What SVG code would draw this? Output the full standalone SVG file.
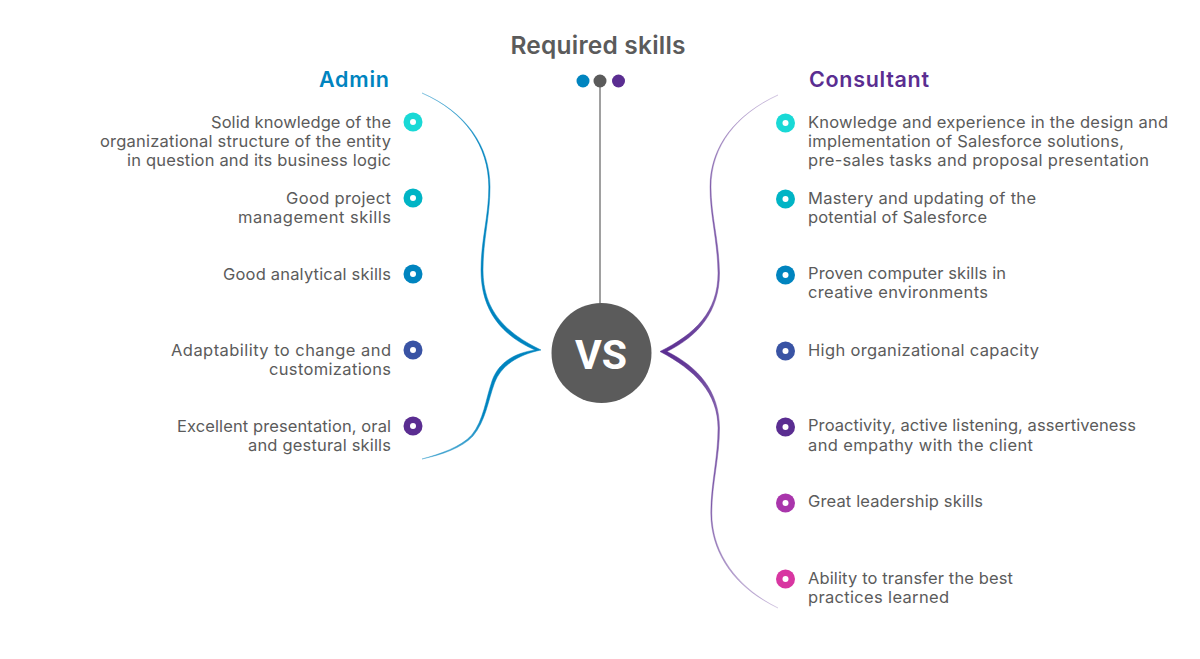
<svg xmlns="http://www.w3.org/2000/svg" width="1200" height="659" viewBox="0 0 1200 659">
<style>
text{font-family:"Inter","Noto Sans","Liberation Sans",sans-serif}
.t{font-size:16.5px;fill:#5b5b5b}
.l{text-anchor:end}
.h{font-size:21.5px;font-weight:600}
.hole{fill:#fff}
</style>
<defs>
<linearGradient id="ga" gradientUnits="userSpaceOnUse" x1="0" y1="93" x2="0" y2="459">
<stop offset="0" stop-color="#0084bf" stop-opacity=".55"/><stop offset=".15" stop-color="#0084bf"/><stop offset=".88" stop-color="#0084bf"/><stop offset="1" stop-color="#0084bf" stop-opacity=".6"/>
</linearGradient>
<linearGradient id="gc" gradientUnits="userSpaceOnUse" x1="0" y1="95" x2="0" y2="610">
<stop offset="0" stop-color="#5a2d91" stop-opacity=".3"/><stop offset=".2" stop-color="#5a2d91" stop-opacity=".7"/><stop offset=".4" stop-color="#5a2d91" stop-opacity=".75"/><stop offset=".5" stop-color="#5a2d91"/><stop offset=".6" stop-color="#5a2d91" stop-opacity=".75"/><stop offset=".8" stop-color="#5a2d91" stop-opacity=".7"/><stop offset="1" stop-color="#5a2d91" stop-opacity=".25"/>
</linearGradient>
</defs>
<g id="connectors">
<line x1="600" y1="81" x2="600" y2="304" stroke="#a0a0a0" stroke-width="2"/>
<path id="admin-brace" fill="url(#ga)" stroke="url(#ga)" stroke-width=".5" d="M422,93 C466,112 490,146 490,187 C490,216 483,240 483,270 C483,311 506,333 541,350 C517,355 501,366 494.500,383 C488,401 485.500,421 473,436 C462,448 441,455 422,459 C440,454 461,447 471.700,435 C483.700,420 485.500,400 492,381 C498.500,362 515,353 535,350 C503,336 481,312 481,270 C481,240 488.800,216 488.800,187 C488.800,146 465,112 422,93 Z"/>
<path id="consultant-brace" fill="url(#gc)" stroke="url(#gc)" stroke-width=".5" d="M778,95 C737,114 711,146 711,187 C711,216 719,240 719.500,273 C719.500,312 698,336 667,351.500 C698,367 719.500,391 719.500,428 C719.500,458 711.800,484 711.800,513 C711.800,554 738,588 778,608 C737,589 710.800,555 710.800,513 C710.800,484 718,458 718,428 C718,393 695,370 660,351.500 C695,334 718,312 718,273 C717.500,240 710,216 710,187 C710,146 736,114 778,95 Z"/>
</g>
<g id="title"><text x="598" y="54" text-anchor="middle" font-size="24.500" font-weight="600" fill="#5b5b5b" textLength="175">Required skills</text></g>
<g id="top-dots"><circle cx="583" cy="81" r="6.500" fill="#0084bf"/><circle cx="600" cy="81" r="6.500" fill="#5b5b5b"/><circle cx="618.500" cy="81" r="6.500" fill="#5a2d91"/></g>
<g id="vs"><circle cx="601.500" cy="353" r="50" fill="#5b5b5b"/><text x="601" y="369" text-anchor="middle" font-size="41" font-weight="700" fill="#fff" style="font-family:Roboto,sans-serif">VS</text></g>
<g id="admin-head"><text class="h l" x="389" y="87" fill="#0084bf" textLength="70">Admin</text></g>
<g id="consultant-head"><text class="h" x="809" y="87" fill="#5a2d91" textLength="120">Consultant</text></g>

<g id="a1"><circle cx="413" cy="122" r="9.500" fill="#19d9d6"/><circle cx="413" cy="122" r="3" class="hole"/><text class="t l" x="391" y="128" textLength="180">Solid knowledge of the</text><text class="t l" x="391" y="147" textLength="291">organizational structure of the entity</text><text class="t l" x="391" y="166" textLength="264">in question and its business logic</text></g>
<g id="a2"><circle cx="413" cy="198" r="9.500" fill="#00b4c5"/><circle cx="413" cy="198" r="3" class="hole"/><text class="t l" x="391" y="204" textLength="105">Good project</text><text class="t l" x="391" y="223" textLength="153">management skills</text></g>
<g id="a3"><circle cx="413" cy="274" r="9.500" fill="#0084bf"/><circle cx="413" cy="274" r="3" class="hole"/><text class="t l" x="391" y="280" textLength="168">Good analytical skills</text></g>
<g id="a4"><circle cx="413" cy="350" r="9.500" fill="#3953a4"/><circle cx="413" cy="350" r="3" class="hole"/><text class="t l" x="391" y="356" textLength="220">Adaptability to change and</text><text class="t l" x="391" y="375" textLength="122">customizations</text></g>
<g id="a5"><circle cx="413" cy="426" r="9.500" fill="#5a2d91"/><circle cx="413" cy="426" r="3" class="hole"/><text class="t l" x="391" y="432" textLength="214">Excellent presentation, oral</text><text class="t l" x="391" y="451" textLength="143">and gestural skills</text></g>

<g id="c1"><circle cx="785.500" cy="123" r="9.500" fill="#19d9d6"/><circle cx="785.500" cy="123" r="3" class="hole"/><text class="t" x="808" y="128" textLength="360">Knowledge and experience in the design and</text><text class="t" x="808" y="147" textLength="316">implementation of Salesforce solutions,</text><text class="t" x="808" y="166" textLength="341">pre-sales tasks and proposal presentation</text></g>
<g id="c2"><circle cx="785.500" cy="199" r="9.500" fill="#00b4c5"/><circle cx="785.500" cy="199" r="3" class="hole"/><text class="t" x="808" y="204" textLength="228">Mastery and updating of the</text><text class="t" x="808" y="223" textLength="179">potential of Salesforce</text></g>
<g id="c3"><circle cx="785.500" cy="275" r="9.500" fill="#0084bf"/><circle cx="785.500" cy="275" r="3" class="hole"/><text class="t" x="808" y="279" textLength="198">Proven computer skills in</text><text class="t" x="808" y="298" textLength="180">creative environments</text></g>
<g id="c4"><circle cx="785.500" cy="351" r="9.500" fill="#3953a4"/><circle cx="785.500" cy="351" r="3" class="hole"/><text class="t" x="808" y="356" textLength="231">High organizational capacity</text></g>
<g id="c5"><circle cx="785.500" cy="427" r="9.500" fill="#5a2d91"/><circle cx="785.500" cy="427" r="3" class="hole"/><text class="t" x="808" y="431" textLength="328">Proactivity, active listening, assertiveness</text><text class="t" x="808" y="451" textLength="225">and empathy with the client</text></g>
<g id="c6"><circle cx="785.500" cy="503" r="9.500" fill="#a935ab"/><circle cx="785.500" cy="503" r="3" class="hole"/><text class="t" x="808" y="507" textLength="175">Great leadership skills</text></g>
<g id="c7"><circle cx="785.500" cy="579" r="9.500" fill="#d836a1"/><circle cx="785.500" cy="579" r="3" class="hole"/><text class="t" x="808" y="584" textLength="205">Ability to transfer the best</text><text class="t" x="808" y="603" textLength="141">practices learned</text></g>
</svg>
